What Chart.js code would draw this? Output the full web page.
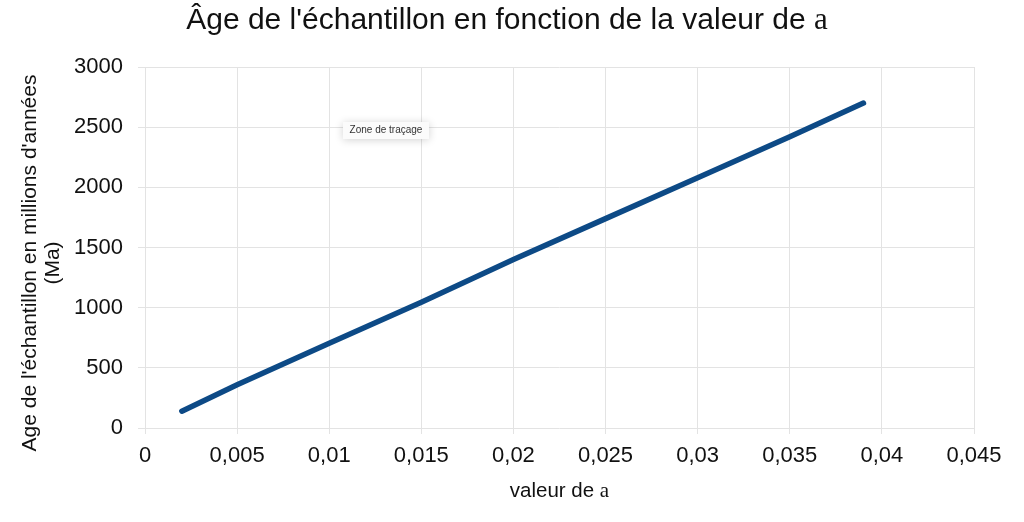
<!DOCTYPE html>
<html>
<head>
<meta charset="utf-8">
<script src="https://cdn.jsdelivr.net/npm/chart.js@4"></script>
<style>
html,body{margin:0;padding:0;background:#fff;}
#wrap{position:relative;width:1024px;height:522px;}
</style>
</head>
<body>
<div id="wrap"><canvas id="c" width="1024" height="522"></canvas></div>
<script>
const aValues = [0.002, 0.005, 0.01, 0.015, 0.02, 0.025, 0.03, 0.035, 0.039];
const ageValues = [140, 360, 705, 1045, 1400, 1740, 2080, 2420, 2700];
const xTicks = [0, 0.005, 0.01, 0.015, 0.02, 0.025, 0.03, 0.035, 0.04, 0.045];
const yTicks = [0, 500, 1000, 1500, 2000, 2500, 3000];
const titleMain = "Âge de l'échantillon en fonction de la valeur de ";
const titleVar = "a";
const xTitleMain = "valeur de ";
const yTitleLines = ["Age de l'échantillon en millions d'années", "(Ma)"];
const hoverLabel = "Zone de traçage";

const SANS = '"Liberation Sans", Arial, sans-serif';
const SERIF = '"Liberation Serif", "Times New Roman", serif';

const textPlugin = {
  id: 'texts',
  afterDraw(chart) {
    const ctx = chart.ctx;
    const ca = chart.chartArea;
    ctx.save();
    ctx.fillStyle = '#111';
    ctx.textBaseline = 'middle';
    function mixed(main, v, fs, fsv, cx, cy) {
      ctx.font = fs + 'px ' + SANS;
      const w1 = ctx.measureText(main).width;
      ctx.font = fsv + 'px ' + SERIF;
      const w2 = ctx.measureText(v).width;
      let x = cx - (w1 + w2) / 2;
      ctx.textAlign = 'left';
      ctx.font = fs + 'px ' + SANS;
      ctx.fillText(main, x, cy);
      ctx.font = fsv + 'px ' + SERIF;
      ctx.fillText(v, x + w1, cy);
    }
    mixed(titleMain, titleVar, 30, 31, 507, 21);
    mixed(xTitleMain, titleVar, 20.5, 21, (ca.left + ca.right) / 2, 491);
    ctx.save();
    ctx.translate(30, 263);
    ctx.rotate(-Math.PI / 2);
    ctx.textAlign = 'center';
    ctx.font = '21px ' + SANS;
    ctx.fillText(yTitleLines[0], 0, 0);
    ctx.fillText(yTitleLines[1], 0, 23);
    ctx.restore();
    ctx.save();
    ctx.shadowColor = 'rgba(0,0,0,0.18)';
    ctx.shadowBlur = 8;
    ctx.shadowOffsetY = 1;
    ctx.fillStyle = '#fbfbfb';
    ctx.fillRect(343, 122, 86, 17);
    ctx.restore();
    ctx.fillStyle = '#333';
    ctx.font = '10px ' + SANS;
    ctx.textAlign = 'center';
    ctx.fillText(hoverLabel, 386, 130.5);
    ctx.restore();
  }
};

const fmt = v => String(v).replace('.', ',');

new Chart(document.getElementById('c'), {
  type: 'scatter',
  data: {
    datasets: [{
      data: aValues.map((a, i) => ({x: a, y: ageValues[i]})),
      showLine: true,
      borderColor: '#0d4a86',
      borderWidth: 5.5,
      borderCapStyle: 'round',
      pointRadius: 0,
      pointHoverRadius: 0,
      fill: false,
      tension: 0
    }]
  },
  options: {
    responsive: false,
    animation: false,
    events: [],
    layout: {padding: {top: 67, right: 50, left: 0, bottom: 0}},
    plugins: {legend: {display: false}, tooltip: {enabled: false}, title: {display: false}},
    scales: {
      x: {
        type: 'linear', min: 0, max: 0.045,
        afterBuildTicks(axis) { axis.ticks = xTicks.map(v => ({value: v})); },
        afterFit(axis) { axis.height = 522 - 428; },
        grid: {color: '#e3e3e3', lineWidth: 1, tickLength: 6, drawTicks: true},
        border: {display: false},
        ticks: {callback: v => fmt(v), color: '#111', font: {family: SANS, size: 22}, padding: 9, maxRotation: 0, autoSkip: false}
      },
      y: {
        type: 'linear', min: 0, max: 3000,
        afterBuildTicks(axis) { axis.ticks = yTicks.map(v => ({value: v})); },
        afterFit(axis) { axis.width = 145; },
        grid: {color: '#e3e3e3', lineWidth: 1, tickLength: 7, drawTicks: true},
        border: {display: false},
        ticks: {callback: v => String(v), color: '#111', font: {family: SANS, size: 22}, padding: 15}
      }
    }
  },
  plugins: [textPlugin]
});
</script>
</body>
</html>
